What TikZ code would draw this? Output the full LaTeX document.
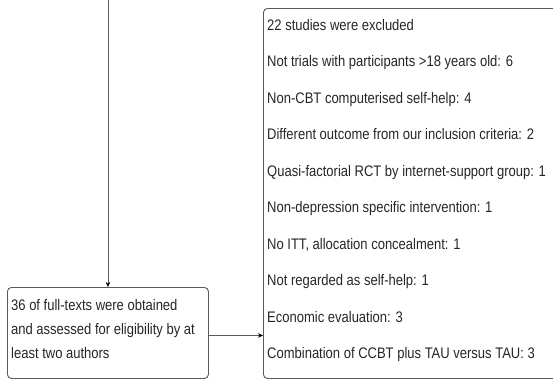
\documentclass[tikz,border=0pt]{standalone}
\usepackage{fontspec}
\setmainfont[FakeStretch=0.85]{Liberation Sans}
\usetikzlibrary{arrows.meta,calc}
\definecolor{edgegray}{HTML}{5A5A5A}
\definecolor{txtgray}{HTML}{262626}
\begin{document}
\begin{tikzpicture}[x=1pt,y=-1pt,
  box/.style={draw=edgegray,line width=0.9pt,rounded corners=4pt,inner sep=0pt,anchor=north west},
  txt/.style={text=txtgray,font=\fontsize{15.3}{24}\selectfont,inner sep=0pt,anchor=base west},
  arr/.style={draw=edgegray,line width=0.9pt,-{Stealth[length=5pt,width=4.5pt,color=black]}}]
\useasboundingbox (0,0) rectangle (553,381);
\node[box,minimum width=201pt,minimum height=91pt] (lbox) at (7,287) {};
\node[box,minimum width=330pt,minimum height=370pt] (rbox) at (263,8) {};
\node[txt] (l1) at (11,310.5) {36 of full-texts were obtained};
\node[txt] (l2) at (11,334.5) {and assessed for eligibility by at};
\node[txt] (l3) at (11,358.5) {least two authors};
\foreach \t [count=\i from 0] in {22 studies were excluded,
  Not trials with participants >18 years old: 6,
  Non-CBT computerised self-help: 4,
  Different outcome from our inclusion criteria: 2,
  Quasi-factorial RCT by internet-support group: 1,
  Non-depression specific intervention: 1,
  {No ITT, allocation concealment: 1},
  Not regarded as self-help: 1,
  Economic evaluation: 3,
  Combination of CCBT plus TAU versus TAU: 3}
  \node[txt] (r\i) at (267,{30+36.5*\i}) {\t};
\coordinate (top) at (lbox.north |- 0,-5);
\draw[arr] (top) -- (lbox.north);
\coordinate (a) at ($(lbox.east)+(0,2.5)$);
\draw[arr] (a) -- (a -| rbox.west);
\end{tikzpicture}
\end{document}
